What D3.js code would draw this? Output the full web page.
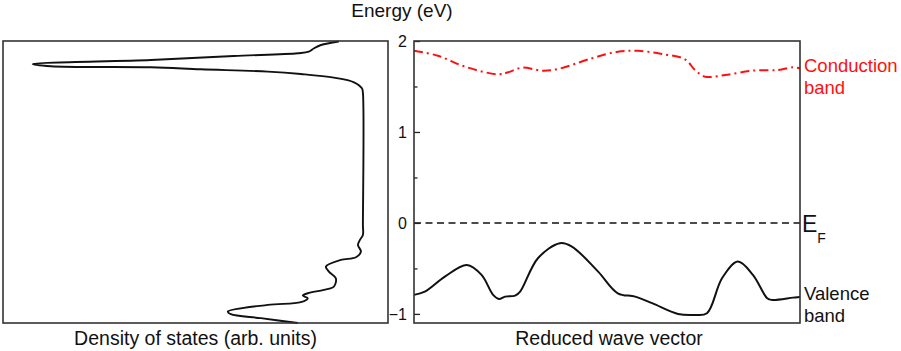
<!DOCTYPE html>
<html>
<head>
<meta charset="utf-8">
<script src="https://cdn.jsdelivr.net/npm/d3@7"></script>
<style>
  html, body { margin: 0; padding: 0; background: #fff; }
  svg { display: block; font-family: "Liberation Sans", Arial, sans-serif; }
</style>
</head>
<body>
<svg id="chart" width="901" height="351"></svg>
<script>
// density of states (left panel), energy in eV, dos in arb. units
const dosEnergy = [1.995, 1.956, 1.92, 1.882, 1.865, 1.835, 1.791, 1.747, 1.722, 1.711, 1.689, 1.663, 1.637, 1.597, 1.546, 1.48, 1.43,
  -0.022, -0.132, -0.187, -0.242, -0.315, -0.377, -0.407, -0.48, -0.535, -0.608, -0.70, -0.736, -0.773, -0.799, -0.827,
  -0.871, -0.901, -0.975, -1.003, -1.047, -1.1];
const dosValue = [0.073, 0.127, 0.148, 0.164, 0.197, 0.391, 0.642, 1.0, 0.945, 0.642, 0.491, 0.288, 0.188, 0.088, 0.027, 0.003, 0,
  0, 0, 0.009, 0.015, 0.006, 0.021, 0.067, 0.112, 0.103, 0.082, 0.088, 0.118, 0.167, 0.182, 0.167,
  0.188, 0.288, 0.409, 0.4, 0.309, 0.197];

// conduction band (red dash-dot)
const cbK = [0, 0.062, 0.132, 0.218, 0.244, 0.28, 0.332, 0.373, 0.461, 0.528, 0.58, 0.642, 0.702, 0.728, 0.754, 0.806, 0.876, 0.943, 0.982, 1];
const cbEnergy = [1.893, 1.838, 1.718, 1.634, 1.656, 1.707, 1.674, 1.692, 1.81, 1.882, 1.893, 1.857, 1.799, 1.681, 1.608, 1.626, 1.674, 1.681, 1.711, 1.70];

// valence band (black)
const vbK = [0, 0.028, 0.08, 0.137, 0.175, 0.205, 0.22, 0.236, 0.262, 0.275, 0.321, 0.378, 0.409, 0.477, 0.528, 0.573, 0.617, 0.684,
  0.728, 0.759, 0.798, 0.839, 0.878, 0.915, 0.927, 0.982, 1];
const vbEnergy = [-0.791, -0.755, -0.59, -0.462, -0.571, -0.791, -0.835, -0.81, -0.799, -0.755, -0.388, -0.223, -0.26, -0.535, -0.773,
  -0.81, -0.882, -1.0, -1.011, -0.992, -0.608, -0.425, -0.571, -0.827, -0.846, -0.821, -0.813];

const fermiLevel = 0;
const yTicks = [-1, 0, 1, 2];
const yMinorTicks = [-0.5, 0.5, 1.5];

const svg = d3.select('#chart');

// panels share the energy axis
const plotTop = 41, plotBottom = 323;
const left1 = 3, right1 = 388;
const left2 = 414, right2 = 800;

const y = d3.scaleLinear().domain([-1.1, 2]).range([plotBottom, plotTop]);
const xDos = d3.scaleLinear().domain([-0.076, 1.09]).range([right1, left1]); // reversed, high dos to the left
const xK = d3.scaleLinear().domain([0, 1]).range([left2, right2]);

const curve = d3.curveCatmullRom.alpha(0.5);

// left panel: DOS curve
const dosLine = d3.line()
  .x(i => xDos(dosValue[i]))
  .y(i => y(dosEnergy[i]))
  .curve(curve);

svg.append('path')
  .attr('d', dosLine(d3.range(dosEnergy.length)))
  .attr('fill', 'none')
  .attr('stroke', '#111')
  .attr('stroke-width', 1.9);

// right panel: bands
const cbLine = d3.line().x(i => xK(cbK[i])).y(i => y(cbEnergy[i])).curve(curve);
const vbLine = d3.line().x(i => xK(vbK[i])).y(i => y(vbEnergy[i])).curve(curve);

svg.append('path')
  .attr('d', cbLine(d3.range(cbK.length)))
  .attr('fill', 'none')
  .attr('stroke', '#ff1010')
  .attr('stroke-width', 2)
  .attr('stroke-dasharray', '9,4,2,4');

svg.append('path')
  .attr('d', vbLine(d3.range(vbK.length)))
  .attr('fill', 'none')
  .attr('stroke', '#111')
  .attr('stroke-width', 2);

svg.append('line')
  .attr('x1', xK(0)).attr('x2', xK(1))
  .attr('y1', y(fermiLevel)).attr('y2', y(fermiLevel))
  .attr('stroke', '#111')
  .attr('stroke-width', 1.5)
  .attr('stroke-dasharray', '7,4.5');

// energy axis, ticks pointing inward
const axis = svg.append('g')
  .attr('transform', `translate(${left2},0)`)
  .call(d3.axisLeft(y).tickValues(yTicks).tickSize(-6).tickPadding(7).tickFormat(d3.format('d')));
axis.select('.domain').remove();
axis.selectAll('line').attr('stroke', '#222').attr('stroke-width', 1.3);
axis.selectAll('text').attr('font-size', 16).attr('fill', '#111').attr('font-family', '"Liberation Sans", Arial, sans-serif');

const minor = svg.append('g')
  .attr('transform', `translate(${left2},0)`)
  .call(d3.axisLeft(y).tickValues(yMinorTicks).tickSize(-3.5).tickFormat(''));
minor.select('.domain').remove();
minor.selectAll('line').attr('stroke', '#222').attr('stroke-width', 1.3);

// frames
[[left1, right1], [left2, right2]].forEach(p => {
  svg.append('rect')
    .attr('x', p[0]).attr('y', plotTop)
    .attr('width', p[1] - p[0]).attr('height', plotBottom - plotTop)
    .attr('fill', 'none')
    .attr('stroke', '#333')
    .attr('stroke-width', 1.6);
});

// labels
svg.append('text').attr('x', 402).attr('y', 17).attr('text-anchor', 'middle')
  .attr('font-size', 19).attr('fill', '#111').text('Energy (eV)');
svg.append('text').attr('x', (left1 + right1) / 2).attr('y', 345).attr('text-anchor', 'middle')
  .attr('font-size', 19.5).attr('fill', '#111').text('Density of states (arb. units)');
svg.append('text').attr('x', (left2 + right2) / 2 + 2).attr('y', 345).attr('text-anchor', 'middle')
  .attr('font-size', 19.5).attr('fill', '#111').text('Reduced wave vector');

svg.append('text').attr('x', 804).attr('y', 72).attr('font-size', 18.5).attr('fill', '#ff1010').text('Conduction');
svg.append('text').attr('x', 804).attr('y', 94).attr('font-size', 18.5).attr('fill', '#ff1010').text('band');

const ef = svg.append('text').attr('x', 802).attr('y', 232).attr('font-size', 23).attr('fill', '#111');
ef.append('tspan').text('E');
ef.append('tspan').attr('font-size', 14).attr('dy', 11).attr('dx', 0).text('F');

svg.append('text').attr('x', 804).attr('y', 300).attr('font-size', 18.5).attr('fill', '#111').text('Valence');
svg.append('text').attr('x', 804).attr('y', 322).attr('font-size', 18.5).attr('fill', '#111').text('band');
</script>
</body>
</html>
